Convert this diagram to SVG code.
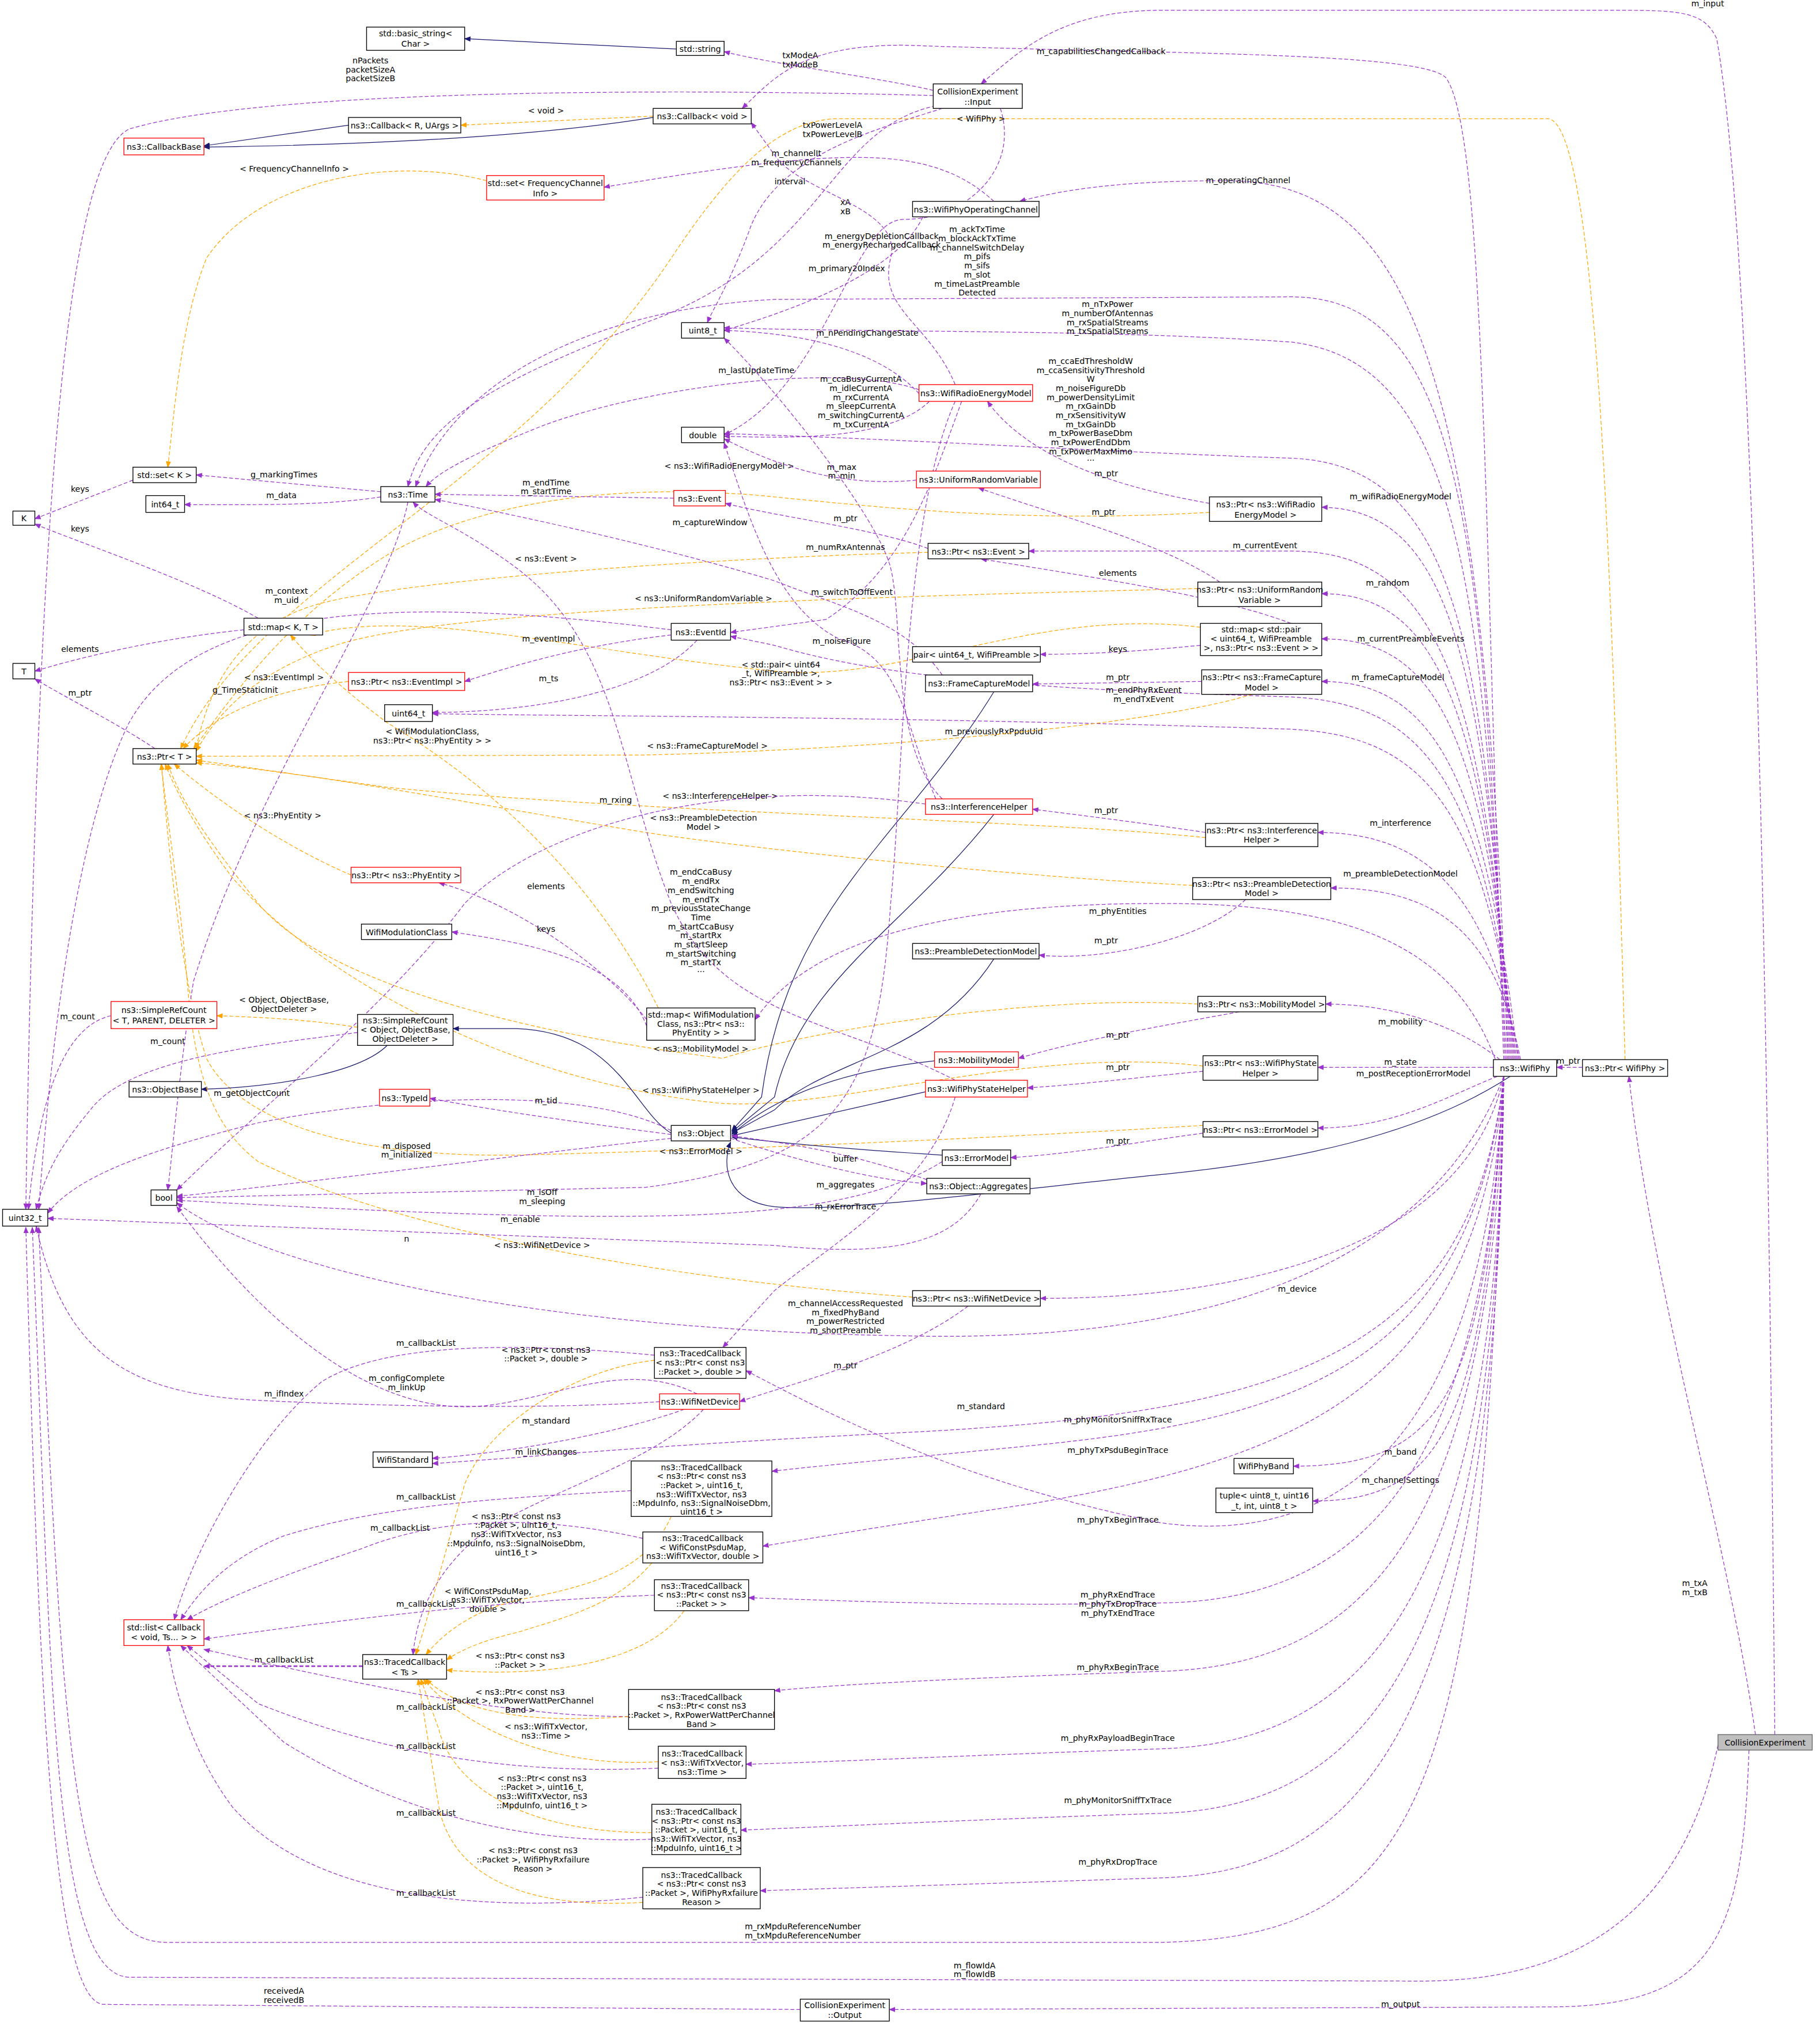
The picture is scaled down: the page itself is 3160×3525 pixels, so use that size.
<svg xmlns="http://www.w3.org/2000/svg" width="3160" height="3525" viewBox="0 0 3160 3525">
<style>
text{font-family:"DejaVu Sans","Liberation Sans",sans-serif;font-size:6.3px;fill:#000}
.n text,text.c{text-anchor:middle}
rect{fill:#fff;stroke:#000;stroke-width:.6}
rect.r{stroke:#f00}
rect.g{fill:#bfbfbf;stroke:#666}
path{fill:none;stroke-width:.55}
.p{stroke:#9a32cd;stroke-dasharray:3,1.6;marker-end:url(#mp)}
.o{stroke:#ffa500;stroke-dasharray:3,1.6;marker-end:url(#mo)}
.b{stroke:#191970;marker-end:url(#mb)}
.pb{stroke:#9a32cd;stroke-dasharray:3,1.6;stroke-width:1.1;marker-end:url(#mp)}
</style>
<defs>
<marker id="mp" viewBox="0 0 10 10" refX="9" refY="5" markerUnits="userSpaceOnUse" markerWidth="5" markerHeight="5" orient="auto"><path d="M0,1 L10,5 L0,9 Z" style="fill:#9a32cd;stroke:none"/></marker>
<marker id="mo" viewBox="0 0 10 10" refX="9" refY="5" markerUnits="userSpaceOnUse" markerWidth="5" markerHeight="5" orient="auto"><path d="M0,1 L10,5 L0,9 Z" style="fill:#ffa500;stroke:none"/></marker>
<marker id="mb" viewBox="0 0 10 10" refX="9" refY="5" markerUnits="userSpaceOnUse" markerWidth="5" markerHeight="5" orient="auto"><path d="M0,1 L10,5 L0,9 Z" style="fill:#191970;stroke:none"/></marker>
</defs>
<rect x="0" y="0" width="3160" height="3525" style="fill:#fff;stroke:none"/>
<g transform="scale(2.2411)">
<g id="edges">
<path class="b" d="M524,38 L360,30"/>
<path class="b" d="M270,97 L158,113"/>
<path class="b" d="M506,91 C420,105 300,112 158,114"/>
<path class="o" d="M506,90 L357,97"/><text class="c" x="423" y="88">&lt; void &gt;</text>
<path class="p" d="M723,70 C680,60 600,50 561,40"/><text class="c" x="620" y="45">txModeA</text><text class="c" x="620" y="52">txModeB</text>
<path class="p" d="M723,74 C500,68 200,70 100,100 C60,120 30,300 20,937"/><text class="c" x="287" y="49">nPackets</text><text class="c" x="287" y="56">packetSizeA</text><text class="c" x="287" y="63">packetSizeB</text>
<path class="p" d="M730,84 C680,100 600,120 580,180 C565,220 552,240 548,250"/><text class="c" x="645" y="99">txPowerLevelA</text><text class="c" x="645" y="106">txPowerLevelB</text>
<path class="p" d="M725,82 C640,100 640,200 500,250 C400,290 330,320 316,377"/><text class="c" x="612" y="143">interval</text>
<path class="p" d="M775,84 C790,130 750,170 700,170 C660,170 640,300 561,337"/><text class="c" x="655" y="159">xA</text><text class="c" x="655" y="166">xB</text>
<path class="p" d="M1375,1344 C1370,800 1360,200 1330,30 C1320,8 1300,8 1250,8 L900,8 C820,8 790,40 760,65"/><text class="c" x="1323" y="5">m_input</text>
<path class="p" d="M1165,821 C1150,400 1150,100 1120,60 C1100,40 900,42 700,35 C620,35 600,60 575,84"/><text class="c" x="853" y="42">m_capabilitiesChangedCallback</text>
<path class="o" d="M1259,821 C1250,500 1240,100 1200,92 L650,92 C600,92 560,140 520,200 C400,380 200,450 140,580"/><text class="c" x="760" y="94">&lt; WifiPhy &gt;</text>
<path class="p" d="M1168,821 C1150,300 1100,140 950,140 C880,140 830,145 790,156"/><text class="c" x="967" y="142">m_operatingChannel</text>
<path class="p" d="M770,156 C720,110 650,115 468,145"/><text class="c" x="617" y="121">m_channelIt</text><text class="c" x="617" y="128">m_frequencyChannels</text>
<path class="o" d="M377,140 C300,120 200,140 160,200 C140,250 135,320 130,362"/><text class="c" x="228" y="133">&lt; FrequencyChannelInfo &gt;</text>
<path class="p" d="M715,168 C700,200 650,230 561,256"/><text class="c" x="656" y="210">m_primary20Index</text>
<path class="p" d="M740,298 C720,250 680,240 690,200 C700,160 620,150 600,120 L582,95"/><text class="c" x="683" y="185">m_energyDepletionCallback</text><text class="c" x="683" y="192">m_energyRechargedCallback</text>
<path class="p" d="M712,305 C680,270 620,258 561,256"/><text class="c" x="672" y="260">m_nPendingChangeState</text>
<path class="p" d="M712,302 C650,280 500,300 420,330 C370,350 340,365 330,377"/><text class="c" x="586" y="289">m_lastUpdateTime</text>
<path class="p" d="M720,311 C690,340 620,340 561,338"/><text class="c" x="667" y="296">m_ccaBusyCurrentA</text><text class="c" x="667" y="303">m_idleCurrentA</text><text class="c" x="667" y="310">m_rxCurrentA</text><text class="c" x="667" y="317">m_sleepCurrentA</text><text class="c" x="667" y="324">m_switchingCurrentA</text><text class="c" x="667" y="331">m_txCurrentA</text>
<path class="p" d="M1166,821 C1150,400 1130,230 1000,230 L600,232 C450,240 350,300 322,377"/><text class="c" x="757" y="180">m_ackTxTime</text><text class="c" x="757" y="187">m_blockAckTxTime</text><text class="c" x="757" y="194">m_channelSwitchDelay</text><text class="c" x="757" y="201">m_pifs</text><text class="c" x="757" y="208">m_sifs</text><text class="c" x="757" y="215">m_slot</text><text class="c" x="757" y="222">m_timeLastPreamble</text><text class="c" x="757" y="229">Detected</text>
<path class="p" d="M1167,821 C1150,450 1130,280 1000,265 C850,255 700,258 561,254"/><text class="c" x="858" y="238">m_nTxPower</text><text class="c" x="858" y="245">m_numberOfAntennas</text><text class="c" x="858" y="252">m_rxSpatialStreams</text><text class="c" x="858" y="259">m_txSpatialStreams</text>
<path class="p" d="M1169,821 C1150,500 1130,360 1000,355 C850,350 700,340 561,336"/><text class="c" x="845" y="282">m_ccaEdThresholdW</text><text class="c" x="845" y="289">m_ccaSensitivityThreshold</text><text class="c" x="845" y="296">W</text><text class="c" x="845" y="303">m_noiseFigureDb</text><text class="c" x="845" y="310">m_powerDensityLimit</text><text class="c" x="845" y="317">m_rxGainDb</text><text class="c" x="845" y="324">m_rxSensitivityW</text><text class="c" x="845" y="331">m_txGainDb</text><text class="c" x="845" y="338">m_txPowerBaseDbm</text><text class="c" x="845" y="345">m_txPowerEndDbm</text><text class="c" x="845" y="352">m_txPowerMaxMimo</text><text class="c" x="845" y="357">...</text>
<path class="p" d="M937,390 C880,380 800,360 765,311"/><text class="c" x="857" y="369">m_ptr</text>
<path class="p" d="M1170,821 C1150,500 1120,395 1024,393"/><text class="c" x="1085" y="387">m_wifiRadioEnergyModel</text>
<path class="o" d="M937,397 C800,405 700,395 600,385 C450,370 350,400 300,430 C220,480 180,540 150,580"/><text class="c" x="565" y="363">&lt; ns3::WifiRadioEnergyModel &gt;</text>
<path class="p" d="M710,372 C650,378 600,360 561,340"/><text class="c" x="652" y="364">m_max</text><text class="c" x="652" y="371">m_min</text>
<path class="p" d="M945,451 C900,420 820,400 758,378"/><text class="c" x="855" y="399">m_ptr</text>
<path class="p" d="M295,381 L152,368"/><text class="c" x="220" y="370">g_markingTimes</text>
<path class="p" d="M295,385 C250,392 200,391 143,391"/><text class="c" x="218" y="386">m_data</text>
<path class="p" d="M103,372 L27,402"/><text class="c" x="62" y="381">keys</text>
<path class="p" d="M522,386 L337,383"/><text class="c" x="423" y="376">m_endTime</text><text class="c" x="423" y="383">m_startTime</text>
<path class="p" d="M719,425 C680,410 600,400 562,390"/><text class="c" x="655" y="404">m_ptr</text>
<path class="p" d="M1171,821 C1150,520 1110,427 1000,427 L797,427"/><text class="c" x="980" y="425">m_currentEvent</text>
<path class="o" d="M719,428 C550,432 300,450 240,470 C180,490 160,540 152,580"/><text class="c" x="423" y="435">&lt; ns3::Event &gt;</text>
<path class="p" d="M730,523 C700,480 650,470 600,450 C500,420 380,395 337,387"/><text class="c" x="550" y="407">m_captureWindow</text>
<path class="p" d="M730,619 C690,580 700,480 690,440 C680,400 600,300 561,262"/><text class="c" x="655" y="426">m_numRxAntennas</text>
<path class="p" d="M725,619 C700,560 700,510 650,495 C600,470 580,400 561,343"/><text class="c" x="652" y="499">m_noiseFigure</text>
<path class="p" d="M1172,821 C1150,540 1110,460 1024,460"/><text class="c" x="1075" y="454">m_random</text>
<path class="o" d="M928,456 C700,462 350,470 260,500 C200,520 170,550 152,582"/><text class="c" x="545" y="466">&lt; ns3::UniformRandomVariable &gt;</text>
<path class="p" d="M1000,483 C940,460 830,445 760,433"/><text class="c" x="866" y="446">elements</text>
<path class="p" d="M930,500 C880,505 840,507 806,507"/><text class="c" x="866" y="505">keys</text>
<path class="o" d="M930,486 C800,470 700,530 600,520 C450,505 320,470 240,492"/><text class="c" x="605" y="517">&lt; std::pair&lt; uint64</text><text class="c" x="605" y="524">_t, WifiPreamble &gt;,</text><text class="c" x="605" y="531">ns3::Ptr&lt; ns3::Event &gt; &gt;</text>
<path class="p" d="M1173,821 C1150,560 1110,495 1024,495"/><text class="c" x="1093" y="497">m_currentPreambleEvents</text>
<path class="p" d="M189,488 C120,495 60,510 27,520"/><text class="c" x="62" y="505">elements</text>
<path class="p" d="M200,479 C150,450 60,420 27,406"/><text class="c" x="62" y="412">keys</text>
<path class="p" d="M120,580 C90,560 50,540 27,526"/><text class="c" x="62" y="539">m_ptr</text>
<path class="p" d="M520,488 C300,460 150,470 100,560 C60,640 40,800 30,937"/><text class="c" x="222" y="460">m_context</text><text class="c" x="222" y="467">m_uid</text>
<path class="p" d="M520,492 C450,500 400,515 360,528"/><text class="c" x="425" y="497">m_eventImpl</text>
<path class="p" d="M540,496 C500,540 400,552 335,552"/><text class="c" x="425" y="528">m_ts</text>
<path class="o" d="M270,528 C200,535 160,560 142,580"/><text class="c" x="220" y="527">&lt; ns3::EventImpl &gt;</text>
<path class="p" d="M745,311 C720,380 700,440 640,480 L566,490"/><text class="c" x="660" y="461">m_switchToOffEvent</text>
<path class="p" d="M1174,821 C1150,600 1100,545 1000,540 C850,535 700,530 600,500 L566,493"/><text class="c" x="886" y="537">m_endPhyRxEvent</text><text class="c" x="886" y="544">m_endTxEvent</text>
<path class="p" d="M1175,821 C1150,620 1100,570 1000,565 C700,555 450,555 335,553"/><text class="c" x="770" y="569">m_previouslyRxPpduUid</text>
<path class="p" d="M931,528 L800,530"/><text class="c" x="866" y="527">m_ptr</text>
<path class="p" d="M1176,821 C1150,600 1110,528 1024,528"/><text class="c" x="1083" y="527">m_frameCaptureModel</text>
<path class="o" d="M970,538 C900,560 700,580 500,585 L152,586"/><text class="c" x="548" y="580">&lt; ns3::FrameCaptureModel &gt;</text>
<path class="p" d="M934,645 C880,637 840,632 800,627"/><text class="c" x="857" y="630">m_ptr</text>
<path class="p" d="M1177,821 C1155,700 1110,645 1021,645"/><text class="c" x="1085" y="640">m_interference</text>
<path class="o" d="M934,649 C800,635 500,630 300,610 L152,589"/><text class="c" x="558" y="619">&lt; ns3::InterferenceHelper &gt;</text>
<path class="p" d="M717,623 C560,600 420,640 360,700 C300,780 200,860 137,922"/><text class="c" x="477" y="622">m_rxing</text>
<path class="o" d="M924,686 C800,680 600,660 500,645 C350,620 250,600 152,591"/><text class="c" x="545" y="636">&lt; ns3::PreambleDetection</text><text class="c" x="545" y="643">Model &gt;</text>
<path class="p" d="M1178,821 C1160,730 1120,688 1031,688"/><text class="c" x="1085" y="679">m_preambleDetectionModel</text>
<path class="p" d="M965,697 C930,730 850,745 805,740"/><text class="c" x="857" y="731">m_ptr</text>
<path class="o" d="M272,678 C230,660 180,630 135,592"/><text class="c" x="219" y="634">&lt; ns3::PhyEntity &gt;</text>
<path class="p" d="M501,790 C470,750 400,700 340,684"/><text class="c" x="423" y="689">elements</text>
<path class="p" d="M501,795 C480,740 400,730 350,722"/><text class="c" x="423" y="722">keys</text>
<path class="o" d="M510,781 C470,700 400,620 300,560 C260,530 240,510 225,492"/><text class="c" x="335" y="569">&lt; WifiModulationClass,</text><text class="c" x="335" y="576">ns3::Ptr&lt; ns3::PhyEntity &gt; &gt;</text>
<path class="p" d="M1160,825 C1130,740 1060,700 900,700 C700,700 620,740 585,790"/><text class="c" x="866" y="708">m_phyEntities</text>
<path class="p" d="M740,837 C650,790 560,790 520,700 C480,600 480,500 400,440 C360,410 330,400 320,389"/><text class="c" x="543" y="678">m_endCcaBusy</text><text class="c" x="543" y="685">m_endRx</text><text class="c" x="543" y="692">m_endSwitching</text><text class="c" x="543" y="699">m_endTx</text><text class="c" x="543" y="706">m_previousStateChange</text><text class="c" x="543" y="713">Time</text><text class="c" x="543" y="720">m_startCcaBusy</text><text class="c" x="543" y="727">m_startRx</text><text class="c" x="543" y="734">m_startSleep</text><text class="c" x="543" y="741">m_startSwitching</text><text class="c" x="543" y="748">m_startTx</text><text class="c" x="543" y="753">...</text>
<path class="o" d="M928,778 C800,770 620,800 560,820 C400,800 250,760 200,700 C160,650 140,620 130,592"/><text class="c" x="543" y="815">&lt; ns3::MobilityModel &gt;</text>
<path class="p" d="M1162,821 C1130,795 1080,778 1027,778"/><text class="c" x="1085" y="794">m_mobility</text>
<path class="p" d="M960,784 C900,795 840,805 789,820"/><text class="c" x="866" y="804">m_ptr</text>
<path class="o" d="M932,826 C800,810 650,860 560,855 C400,840 250,760 180,680 C150,640 135,610 128,592"/><text class="c" x="543" y="847">&lt; ns3::WifiPhyStateHelper &gt;</text>
<path class="p" d="M1157,827 L1021,827"/><text class="c" x="1085" y="825">m_state</text>
<path class="p" d="M932,830 C880,835 840,840 796,843"/><text class="c" x="866" y="829">m_ptr</text>
<path class="p" d="M1160,834 C1120,850 1080,874 1021,874"/><text class="c" x="1095" y="834">m_postReceptionErrorModel</text>
<path class="p" d="M932,878 C880,885 840,893 783,897"/><text class="c" x="866" y="886">m_ptr</text>
<path class="o" d="M932,872 C800,880 600,890 400,895 C250,897 180,860 160,820 C140,760 130,650 125,592"/><text class="c" x="543" y="894">&lt; ns3::ErrorModel &gt;</text>
<path class="o" d="M277,796 C240,790 200,788 168,787"/><text class="c" x="220" y="777">&lt; Object, ObjectBase,</text><text class="c" x="220" y="784">ObjectDeleter &gt;</text>
<path class="p" d="M86,787 C50,795 30,850 22,937"/><text class="c" x="60" y="790">m_count</text>
<path class="p" d="M277,800 C200,810 100,820 70,860 C45,890 35,910 28,937"/><text class="c" x="130" y="809">m_count</text>
<path class="b" d="M300,810 C280,830 220,842 156,844"/>
<path class="b" d="M520,878 C490,860 480,800 400,797 L351,797"/>
<path class="p" d="M520,876 C450,840 300,850 200,870 C120,890 60,910 37,940"/><text class="c" x="195" y="849">m_getObjectCount</text>
<path class="p" d="M520,879 C450,870 380,860 333,851"/><text class="c" x="423" y="855">m_tid</text>
<path class="p" d="M520,882 C400,895 250,915 137,927"/><text class="c" x="315" y="890">m_disposed</text><text class="c" x="315" y="897">m_initialized</text>
<path class="b" d="M770,536 C700,650 610,700 590,850 L567,876"/>
<path class="b" d="M770,631 C700,720 620,760 600,850 L567,877"/>
<path class="b" d="M770,743 C720,820 640,820 600,860 L567,878"/>
<path class="b" d="M724,822 C650,830 600,850 567,879"/>
<path class="b" d="M717,846 L567,880"/>
<path class="b" d="M730,895 C650,890 600,885 567,881"/>
<path class="b" d="M1170,834 C1100,880 1000,900 900,910 C800,920 650,940 600,935 C560,930 560,900 566,885"/>
<path class="p" d="M566,882 C620,900 680,915 718,917"/><text class="c" x="655" y="920">m_aggregates</text>
<path class="p" d="M718,914 C650,890 600,885 567,880"/><text class="c" x="655" y="900">buffer</text>
<path class="p" d="M760,925 C740,960 700,975 600,965 L37,944"/><text class="c" x="315" y="962">n</text>
<path class="p" d="M730,900 C650,950 500,950 137,930"/><text class="c" x="403" y="947">m_enable</text>
<path class="p" d="M740,311 C700,400 700,600 690,700 C680,850 650,900 500,920 L137,928"/><text class="c" x="420" y="926">m_isOff</text><text class="c" x="420" y="933">m_sleeping</text>
<path class="o" d="M707,1005 C500,990 300,950 200,900 C160,870 150,820 145,760 C140,700 130,640 125,592"/><text class="c" x="420" y="967">&lt; ns3::WifiNetDevice &gt;</text>
<path class="p" d="M1165,834 C1140,950 1000,1006 806,1006"/><text class="c" x="1005" y="1001">m_device</text>
<path class="p" d="M750,1012 C700,1050 620,1070 573,1086"/><text class="c" x="655" y="1060">m_ptr</text>
<path class="p" d="M1165,834 C1100,1000 900,1040 700,1035 C400,1030 200,980 137,932"/><text class="c" x="655" y="1012">m_channelAccessRequested</text><text class="c" x="655" y="1019">m_fixedPhyBand</text><text class="c" x="655" y="1026">m_powerRestricted</text><text class="c" x="655" y="1033">m_shortPreamble</text>
<path class="p" d="M740,850 C720,920 650,960 600,1000 L560,1044"/><text class="c" x="655" y="937">m_rxErrorTrace</text>
<path class="p" d="M1165,834 C1150,1100 1050,1200 900,1180 C750,1150 650,1100 578,1062"/><text class="c" x="866" y="1180">m_phyTxBeginTrace</text>
<path class="p" d="M540,1080 C480,1050 420,1090 360,1090 C280,1090 200,1020 137,935"/><text class="c" x="315" y="1070">m_configComplete</text><text class="c" x="315" y="1077">m_linkUp</text>
<path class="p" d="M511,1086 C430,1092 300,1090 200,1085 C100,1080 50,1050 28,950"/><text class="c" x="220" y="1082">m_ifIndex</text>
<path class="p" d="M530,1092 C480,1110 400,1125 335,1130"/><text class="c" x="423" y="1103">m_standard</text>
<path class="p" d="M545,1092 C500,1140 400,1160 360,1200 C330,1230 322,1260 320,1282"/><text class="c" x="423" y="1127">m_linkChanges</text>
<path class="p" d="M1165,834 C1140,1050 1000,1095 700,1110 C500,1120 400,1130 335,1134"/><text class="c" x="760" y="1092">m_standard</text>
<path class="p" d="M1165,834 C1140,1060 1000,1100 800,1120 C700,1130 640,1135 598,1140"/><text class="c" x="866" y="1102">m_phyMonitorSniffRxTrace</text>
<path class="p" d="M1165,834 C1145,1080 1000,1130 800,1165 C700,1180 640,1190 591,1198"/><text class="c" x="866" y="1126">m_phyTxPsduBeginTrace</text>
<path class="p" d="M1165,834 C1150,1080 1120,1136 1002,1136"/><text class="c" x="1085" y="1127">m_band</text>
<path class="p" d="M1165,834 C1150,1100 1120,1163 1017,1163"/><text class="c" x="1085" y="1149">m_channelSettings</text>
<path class="p" d="M1165,834 C1150,1150 1050,1240 900,1242 C750,1245 650,1240 580,1238"/><text class="c" x="866" y="1238">m_phyRxEndTrace</text><text class="c" x="866" y="1245">m_phyTxDropTrace</text><text class="c" x="866" y="1252">m_phyTxEndTrace</text>
<path class="p" d="M1165,834 C1155,1200 1050,1290 900,1295 C750,1300 650,1305 600,1310"/><text class="c" x="866" y="1294">m_phyRxBeginTrace</text>
<path class="p" d="M1165,834 C1160,1250 1050,1350 900,1355 C750,1360 650,1365 578,1367"/><text class="c" x="866" y="1349">m_phyRxPayloadBeginTrace</text>
<path class="p" d="M1165,834 C1160,1300 1050,1400 900,1405 C750,1410 650,1415 574,1418"/><text class="c" x="866" y="1397">m_phyMonitorSniffTxTrace</text>
<path class="p" d="M1165,834 C1160,1350 1050,1450 900,1455 C750,1460 650,1463 589,1465"/><text class="c" x="866" y="1445">m_phyRxDropTrace</text>
<path class="p" d="M1165,834 C1150,1400 1100,1500 900,1505 L130,1505 C60,1505 50,1400 30,951"/><text class="c" x="622" y="1495">m_rxMpduReferenceNumber</text><text class="c" x="622" y="1502">m_txMpduReferenceNumber</text>
<path class="p" d="M1331,1352 C1300,1500 1200,1535 1100,1535 L100,1532 C40,1530 40,1300 25,951"/><text class="c" x="755" y="1525">m_flowIdA</text><text class="c" x="755" y="1532">m_flowIdB</text>
<path class="p" d="M620,1557 L80,1553 C40,1550 30,1300 20,951"/><text class="c" x="220" y="1545">receivedA</text><text class="c" x="220" y="1552">receivedB</text>
<path class="p" d="M1355,1356 C1350,1500 1330,1555 1200,1555 L689,1557"/><text class="c" x="1085" y="1555">m_output</text>
<path class="p" d="M1360,1344 C1340,1200 1280,1000 1262,834"/><text class="c" x="1313" y="1229">m_txA</text><text class="c" x="1313" y="1236">m_txB</text>
<path class="p" d="M1226,827 L1206,827"/><text class="c" x="1215" y="824">m_ptr</text>
<path class="pb" d="M281,1291 L158,1291"/><text class="c" x="220" y="1288">m_callbackList</text>
<path class="p" d="M507,1050 C400,1040 300,1040 250,1070 C200,1110 150,1200 135,1255"/><text class="c" x="330" y="1043">m_callbackList</text>
<path class="p" d="M489,1155 C400,1160 300,1165 220,1190 C170,1210 150,1240 140,1255"/><text class="c" x="330" y="1162">m_callbackList</text>
<path class="p" d="M498,1192 C400,1170 330,1180 280,1200 C220,1220 170,1240 145,1255"/><text class="c" x="310" y="1186">m_callbackList</text>
<path class="p" d="M507,1236 C400,1240 300,1250 158,1270"/><text class="c" x="330" y="1245">m_callbackList</text>
<path class="p" d="M487,1330 C400,1330 300,1310 158,1278"/><text class="c" x="330" y="1325">m_callbackList</text>
<path class="p" d="M510,1370 C400,1375 300,1360 200,1320 L145,1275"/><text class="c" x="330" y="1355">m_callbackList</text>
<path class="p" d="M505,1425 C400,1430 300,1400 220,1350 L140,1275"/><text class="c" x="330" y="1407">m_callbackList</text>
<path class="p" d="M498,1470 C400,1480 250,1480 180,1400 C150,1360 135,1310 130,1275"/><text class="c" x="330" y="1469">m_callbackList</text>
<path class="o" d="M507,1054 C450,1060 380,1100 360,1150 C340,1220 330,1260 322,1282"/><text class="c" x="423" y="1048">&lt; ns3::Ptr&lt; const ns3</text><text class="c" x="423" y="1055">::Packet &gt;, double &gt;</text>
<path class="o" d="M520,1175 C500,1220 450,1230 400,1240 C360,1250 340,1270 330,1282"/><text class="c" x="400" y="1177">&lt; ns3::Ptr&lt; const ns3</text><text class="c" x="400" y="1184">::Packet &gt;, uint16_t,</text><text class="c" x="400" y="1191">ns3::WifiTxVector, ns3</text><text class="c" x="400" y="1198">::MpduInfo, ns3::SignalNoiseDbm,</text><text class="c" x="400" y="1205">uint16_t &gt;</text>
<path class="o" d="M505,1211 C480,1240 450,1250 400,1265 C370,1272 355,1280 346,1286"/><text class="c" x="378" y="1235">&lt; WifiConstPsduMap,</text><text class="c" x="378" y="1242">ns3::WifiTxVector,</text><text class="c" x="378" y="1249">double &gt;</text>
<path class="o" d="M530,1248 C500,1290 420,1300 346,1294"/><text class="c" x="403" y="1285">&lt; ns3::Ptr&lt; const ns3</text><text class="c" x="403" y="1292">::Packet &gt; &gt;</text>
<path class="o" d="M487,1330 C420,1335 360,1330 330,1301"/><text class="c" x="403" y="1313">&lt; ns3::Ptr&lt; const ns3</text><text class="c" x="403" y="1320">::Packet &gt;, RxPowerWattPerChannel</text><text class="c" x="403" y="1327">Band &gt;</text>
<path class="o" d="M510,1365 C430,1370 360,1340 328,1301"/><text class="c" x="423" y="1340">&lt; ns3::WifiTxVector,</text><text class="c" x="423" y="1347">ns3::Time &gt;</text>
<path class="o" d="M505,1420 C400,1420 350,1380 340,1340 L326,1301"/><text class="c" x="420" y="1380">&lt; ns3::Ptr&lt; const ns3</text><text class="c" x="420" y="1387">::Packet &gt;, uint16_t,</text><text class="c" x="420" y="1394">ns3::WifiTxVector, ns3</text><text class="c" x="420" y="1401">::MpduInfo, uint16_t &gt;</text>
<path class="o" d="M498,1474 C400,1480 350,1450 340,1400 L324,1301"/><text class="c" x="413" y="1436">&lt; ns3::Ptr&lt; const ns3</text><text class="c" x="413" y="1443">::Packet &gt;, WifiPhyRxfailure</text><text class="c" x="413" y="1450">Reason &gt;</text>
<path class="p" d="M316,389 C300,470 200,600 150,760 C140,820 135,880 130,922"/><text class="c" x="190" y="537">g_TimeStaticInit</text>
</g>
<g id="n_basic_string" class="n"><rect x="284" y="21" width="76" height="18"/><text x="322" y="28">std::basic_string&lt;</text><text x="322" y="36">Char &gt;</text></g>
<g id="n_string" class="n"><rect x="524" y="32" width="37" height="11"/><text x="542.5" y="40">std::string</text></g>
<g id="n_input" class="n"><rect x="723" y="65" width="69" height="19"/><text x="757.5" y="73">CollisionExperiment</text><text x="757.5" y="81">::Input</text></g>
<g id="n_cb_void" class="n"><rect x="506" y="84" width="76" height="12"/><text x="544" y="92.5">ns3::Callback&lt; void &gt;</text></g>
<g id="n_cb_r" class="n"><rect x="270" y="91" width="87" height="12"/><text x="313.5" y="99.5">ns3::Callback&lt; R, UArgs &gt;</text></g>
<g id="n_cbbase" class="n"><rect class="r" x="96" y="107" width="62" height="13"/><text x="127" y="116">ns3::CallbackBase</text></g>
<g id="n_setfci" class="n"><rect class="r" x="377" y="136" width="91" height="19"/><text x="422.5" y="144">std::set&lt; FrequencyChannel</text><text x="422.5" y="152">Info &gt;</text></g>
<g id="n_opchan" class="n"><rect x="707" y="156" width="98" height="12"/><text x="756" y="164.5">ns3::WifiPhyOperatingChannel</text></g>
<g id="n_uint8" class="n"><rect x="528" y="250" width="33" height="12"/><text x="544.5" y="258.5">uint8_t</text></g>
<g id="n_wre" class="n"><rect class="r" x="712" y="298" width="88" height="13"/><text x="756" y="307">ns3::WifiRadioEnergyModel</text></g>
<g id="n_double" class="n"><rect x="528" y="331" width="33" height="12"/><text x="544.5" y="339.5">double</text></g>
<g id="n_urv" class="n"><rect class="r" x="710" y="365" width="96" height="13"/><text x="758" y="374">ns3::UniformRandomVariable</text></g>
<g id="n_setk" class="n"><rect x="103" y="362" width="49" height="12"/><text x="127.5" y="370.5">std::set&lt; K &gt;</text></g>
<g id="n_int64" class="n"><rect x="113" y="384" width="30" height="13"/><text x="128" y="393">int64_t</text></g>
<g id="n_time" class="n"><rect x="295" y="377" width="42" height="12"/><text x="316" y="385.5">ns3::Time</text></g>
<g id="n_event" class="n"><rect class="r" x="522" y="380" width="40" height="12"/><text x="542" y="388.5">ns3::Event</text></g>
<g id="n_k" class="n"><rect x="10" y="396" width="17" height="11"/><text x="18.5" y="404">K</text></g>
<g id="n_ptr_wre" class="n"><rect x="937" y="385" width="87" height="19"/><text x="980.5" y="393">ns3::Ptr&lt; ns3::WifiRadio</text><text x="980.5" y="401">EnergyModel &gt;</text></g>
<g id="n_ptr_event" class="n"><rect x="719" y="421" width="78" height="12"/><text x="758" y="429.5">ns3::Ptr&lt; ns3::Event &gt;</text></g>
<g id="n_ptr_urv" class="n"><rect x="928" y="451" width="96" height="19"/><text x="976" y="459">ns3::Ptr&lt; ns3::UniformRandom</text><text x="976" y="467">Variable &gt;</text></g>
<g id="n_mapkt" class="n"><rect x="189" y="479" width="61" height="13"/><text x="219.5" y="488">std::map&lt; K, T &gt;</text></g>
<g id="n_eventid" class="n"><rect x="520" y="483" width="46" height="13"/><text x="543" y="492">ns3::EventId</text></g>
<g id="n_mappair" class="n"><rect x="930" y="483" width="94" height="25"/><text x="977" y="490">std::map&lt; std::pair</text><text x="977" y="497">&lt; uint64_t, WifiPreamble</text><text x="977" y="504">&gt;, ns3::Ptr&lt; ns3::Event &gt; &gt;</text></g>
<g id="n_t" class="n"><rect x="10" y="514" width="17" height="12"/><text x="18.5" y="522.5">T</text></g>
<g id="n_ptr_eventimpl" class="n"><rect class="r" x="270" y="521" width="90" height="14"/><text x="315" y="530.5">ns3::Ptr&lt; ns3::EventImpl &gt;</text></g>
<g id="n_pair" class="n"><rect x="707" y="501" width="99" height="12"/><text x="756.5" y="509.5">pair&lt; uint64_t, WifiPreamble &gt;</text></g>
<g id="n_fcm" class="n"><rect x="717" y="523" width="83" height="13"/><text x="758.5" y="532">ns3::FrameCaptureModel</text></g>
<g id="n_ptr_fcm" class="n"><rect x="931" y="519" width="93" height="19"/><text x="977.5" y="527">ns3::Ptr&lt; ns3::FrameCapture</text><text x="977.5" y="535">Model &gt;</text></g>
<g id="n_uint64" class="n"><rect x="298" y="546" width="37" height="13"/><text x="316.5" y="555">uint64_t</text></g>
<g id="n_ptrt" class="n"><rect x="103" y="580" width="49" height="12"/><text x="127.5" y="588.5">ns3::Ptr&lt; T &gt;</text></g>
<g id="n_ih" class="n"><rect class="r" x="717" y="619" width="83" height="12"/><text x="758.5" y="627.5">ns3::InterferenceHelper</text></g>
<g id="n_ptr_ih" class="n"><rect x="934" y="638" width="87" height="18"/><text x="977.5" y="645.5">ns3::Ptr&lt; ns3::Interference</text><text x="977.5" y="653">Helper &gt;</text></g>
<g id="n_ptr_phyentity" class="n"><rect class="r" x="272" y="672" width="85" height="12"/><text x="314.5" y="680.5">ns3::Ptr&lt; ns3::PhyEntity &gt;</text></g>
<g id="n_ptr_pdm" class="n"><rect x="924" y="680" width="107" height="17"/><text x="977.5" y="687">ns3::Ptr&lt; ns3::PreambleDetection</text><text x="977.5" y="694.5">Model &gt;</text></g>
<g id="n_wmc" class="n"><rect x="280" y="716" width="70" height="12"/><text x="315" y="724.5">WifiModulationClass</text></g>
<g id="n_pdm" class="n"><rect x="707" y="731" width="98" height="12"/><text x="756" y="739.5">ns3::PreambleDetectionModel</text></g>
<g id="n_ptr_mm" class="n"><rect x="928" y="772" width="99" height="12"/><text x="977.5" y="780.5">ns3::Ptr&lt; ns3::MobilityModel &gt;</text></g>
<g id="n_mapwmc" class="n"><rect x="501" y="781" width="84" height="25"/><text x="543" y="788.5">std::map&lt; WifiModulation</text><text x="543" y="795.5">Class, ns3::Ptr&lt; ns3::</text><text x="543" y="802.5">PhyEntity &gt; &gt;</text></g>
<g id="n_src_t" class="n"><rect class="r" x="86" y="776" width="82" height="21"/><text x="127" y="785">ns3::SimpleRefCount</text><text x="127" y="793">&lt; T, PARENT, DELETER &gt;</text></g>
<g id="n_src_obj" class="n"><rect x="277" y="786" width="74" height="24"/><text x="314" y="793">ns3::SimpleRefCount</text><text x="314" y="800">&lt; Object, ObjectBase,</text><text x="314" y="807">ObjectDeleter &gt;</text></g>
<g id="n_mm" class="n"><rect class="r" x="724" y="815" width="65" height="12"/><text x="756.5" y="823.5">ns3::MobilityModel</text></g>
<g id="n_ptr_wpsh" class="n"><rect x="932" y="818" width="89" height="19"/><text x="976.5" y="826">ns3::Ptr&lt; ns3::WifiPhyState</text><text x="976.5" y="834">Helper &gt;</text></g>
<g id="n_wpsh" class="n"><rect class="r" x="717" y="837" width="79" height="13"/><text x="756.5" y="846">ns3::WifiPhyStateHelper</text></g>
<g id="n_objectbase" class="n"><rect x="100" y="838" width="56" height="12"/><text x="128" y="846.5">ns3::ObjectBase</text></g>
<g id="n_typeid" class="n"><rect class="r" x="294" y="844" width="39" height="13"/><text x="313.5" y="853">ns3::TypeId</text></g>
<g id="n_wifiphy" class="n"><rect x="1157" y="821" width="49" height="13"/><text x="1181.5" y="830">ns3::WifiPhy</text></g>
<g id="n_ptr_wifiphy" class="n"><rect x="1226" y="821" width="66" height="13"/><text x="1259" y="830">ns3::Ptr&lt; WifiPhy &gt;</text></g>
<g id="n_object" class="n"><rect x="520" y="872" width="46" height="12"/><text x="543" y="880.5">ns3::Object</text></g>
<g id="n_ptr_em" class="n"><rect x="932" y="869" width="89" height="12"/><text x="976.5" y="877.5">ns3::Ptr&lt; ns3::ErrorModel &gt;</text></g>
<g id="n_em" class="n"><rect x="730" y="891" width="53" height="12"/><text x="756.5" y="899.5">ns3::ErrorModel</text></g>
<g id="n_aggr" class="n"><rect x="718" y="913" width="80" height="12"/><text x="758" y="921.5">ns3::Object::Aggregates</text></g>
<g id="n_bool" class="n"><rect x="117" y="922" width="20" height="12"/><text x="127" y="930.5">bool</text></g>
<g id="n_uint32" class="n"><rect x="2" y="937" width="35" height="13"/><text x="19.5" y="946">uint32_t</text></g>
<g id="n_ptr_wnd" class="n"><rect x="707" y="1000" width="99" height="12"/><text x="756.5" y="1008.5">ns3::Ptr&lt; ns3::WifiNetDevice &gt;</text></g>
<g id="n_tc_pd" class="n"><rect x="507" y="1044" width="71" height="24"/><text x="542.5" y="1051">ns3::TracedCallback</text><text x="542.5" y="1058">&lt; ns3::Ptr&lt; const ns3</text><text x="542.5" y="1065">::Packet &gt;, double &gt;</text></g>
<g id="n_wnd" class="n"><rect class="r" x="511" y="1080" width="62" height="12"/><text x="542" y="1088.5">ns3::WifiNetDevice</text></g>
<g id="n_wstd" class="n"><rect x="289" y="1125" width="46" height="12"/><text x="312" y="1133.5">WifiStandard</text></g>
<g id="n_band" class="n"><rect x="956" y="1130" width="46" height="12"/><text x="979" y="1138.5">WifiPhyBand</text></g>
<g id="n_tuple" class="n"><rect x="942" y="1153" width="75" height="19"/><text x="979.5" y="1161">tuple&lt; uint8_t, uint16</text><text x="979.5" y="1169">_t, int, uint8_t &gt;</text></g>
<g id="n_tc_sn" class="n"><rect x="489" y="1132" width="109" height="43"/><text x="543.5" y="1139">ns3::TracedCallback</text><text x="543.5" y="1146">&lt; ns3::Ptr&lt; const ns3</text><text x="543.5" y="1153">::Packet &gt;, uint16_t,</text><text x="543.5" y="1160">ns3::WifiTxVector, ns3</text><text x="543.5" y="1167">::MpduInfo, ns3::SignalNoiseDbm,</text><text x="543.5" y="1173.5">uint16_t &gt;</text></g>
<g id="n_tc_psdu" class="n"><rect x="498" y="1187" width="93" height="24"/><text x="544.5" y="1194">ns3::TracedCallback</text><text x="544.5" y="1201">&lt; WifiConstPsduMap,</text><text x="544.5" y="1208">ns3::WifiTxVector, double &gt;</text></g>
<g id="n_tc_pkt" class="n"><rect x="507" y="1224" width="73" height="24"/><text x="543.5" y="1231">ns3::TracedCallback</text><text x="543.5" y="1238">&lt; ns3::Ptr&lt; const ns3</text><text x="543.5" y="1245">::Packet &gt; &gt;</text></g>
<g id="n_list" class="n"><rect class="r" x="96" y="1255" width="62" height="20"/><text x="127" y="1263">std::list&lt; Callback</text><text x="127" y="1271">&lt; void, Ts... &gt; &gt;</text></g>
<g id="n_tc_ts" class="n"><rect x="281" y="1282" width="65" height="19"/><text x="313.5" y="1290">ns3::TracedCallback</text><text x="313.5" y="1298">&lt; Ts &gt;</text></g>
<g id="n_tc_rxp" class="n"><rect x="487" y="1309" width="113" height="31"/><text x="543.5" y="1317">ns3::TracedCallback</text><text x="543.5" y="1324">&lt; ns3::Ptr&lt; const ns3</text><text x="543.5" y="1331">::Packet &gt;, RxPowerWattPerChannel</text><text x="543.5" y="1338">Band &gt;</text></g>
<g id="n_tc_txv" class="n"><rect x="510" y="1353" width="68" height="25"/><text x="544" y="1361">ns3::TracedCallback</text><text x="544" y="1368">&lt; ns3::WifiTxVector,</text><text x="544" y="1375">ns3::Time &gt;</text></g>
<g id="n_tc_mpdu" class="n"><rect x="505" y="1398" width="69" height="39"/><text x="539.5" y="1406">ns3::TracedCallback</text><text x="539.5" y="1413">&lt; ns3::Ptr&lt; const ns3</text><text x="539.5" y="1420">::Packet &gt;, uint16_t,</text><text x="539.5" y="1427">ns3::WifiTxVector, ns3</text><text x="539.5" y="1434">::MpduInfo, uint16_t &gt;</text></g>
<g id="n_tc_fail" class="n"><rect x="498" y="1447" width="91" height="32"/><text x="543.5" y="1455">ns3::TracedCallback</text><text x="543.5" y="1462">&lt; ns3::Ptr&lt; const ns3</text><text x="543.5" y="1469">::Packet &gt;, WifiPhyRxfailure</text><text x="543.5" y="1476">Reason &gt;</text></g>
<g id="n_output" class="n"><rect x="620" y="1549" width="69" height="17"/><text x="654.5" y="1556">CollisionExperiment</text><text x="654.5" y="1563.5">::Output</text></g>
<g id="n_collision" class="n"><rect class="g" x="1331" y="1344" width="73" height="12"/><text x="1367.5" y="1352.5">CollisionExperiment</text></g>
</g>
</svg>
